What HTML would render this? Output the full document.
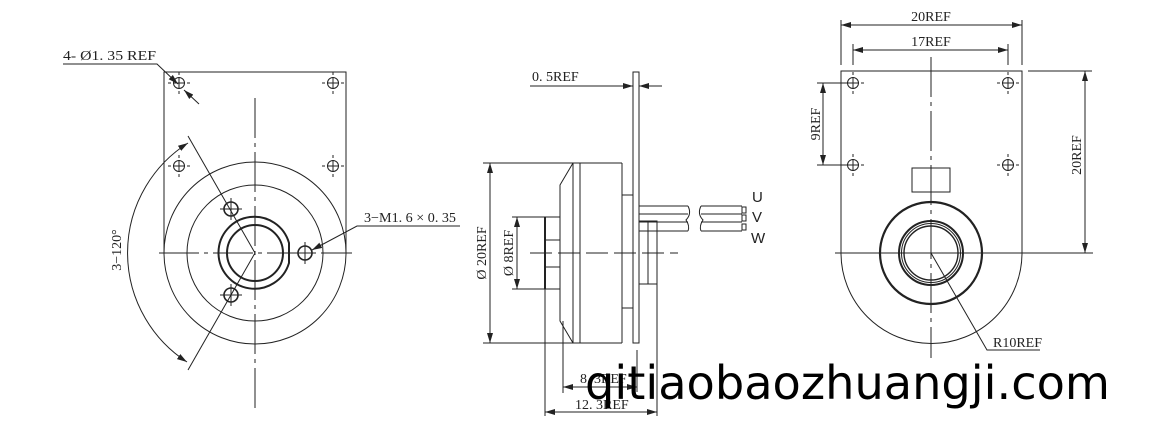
<!DOCTYPE html>
<html><head><meta charset="utf-8"><style>
html,body{margin:0;padding:0;background:#fff;}
svg{display:block;}
text{font-family:"Liberation Serif","DejaVu Serif",serif;fill:#222;}
</style></head><body>
<svg width="1168" height="430" viewBox="0 0 1168 430" xmlns="http://www.w3.org/2000/svg">
<defs>
<marker id="a" viewBox="0 0 10 6" refX="10" refY="3" markerWidth="10" markerHeight="6" orient="auto-start-reverse" markerUnits="userSpaceOnUse"><path d="M0,0 L10,3 L0,6 z" fill="#222"/></marker>
<g id="h"><circle r="5.5" fill="none" stroke="#222" stroke-width="1"/><line x1="-11" y1="0" x2="-8" y2="0"/><line x1="-6" y1="0" x2="6" y2="0"/><line x1="8" y1="0" x2="11" y2="0"/><line x1="0" y1="-11" x2="0" y2="-8"/><line x1="0" y1="-6" x2="0" y2="6"/><line x1="0" y1="8" x2="0" y2="11"/></g>
<g id="m"><circle r="7" fill="none" stroke-width="1.6"/><line x1="-11" y1="0" x2="11" y2="0"/><line x1="0" y1="-11" x2="0" y2="11"/></g>
</defs>
<g stroke="#222" stroke-width="1" fill="none">
<!-- LEFT VIEW -->
<polyline points="164,253 164,72 346,72 346,253"/>
<circle cx="255" cy="253" r="91"/>
<circle cx="255" cy="253" r="68"/>
<path d="M250,217 A36,36 0 1 0 289,263 L289,243 A36,36 0 0 0 250,217 Z" stroke-width="2"/>
<circle cx="255" cy="253" r="28" stroke-width="2"/>
<use href="#h" x="179" y="83"/><use href="#h" x="333" y="83"/><use href="#h" x="179" y="166"/><use href="#h" x="333" y="166"/>
<use href="#m" x="231" y="209"/><use href="#m" x="305" y="253"/><use href="#m" x="231" y="295"/>
<line x1="255" y1="98" x2="255" y2="408" stroke-dasharray="40,5,4,5"/>
<line x1="159" y1="253" x2="352" y2="253" stroke-dasharray="40,5,4,5"/>
<line x1="255" y1="253" x2="188" y2="136"/>
<line x1="255" y1="253" x2="188" y2="370"/>
<path d="M188,143 A130,130 0 0 0 187,362" marker-start="url(#a)" marker-end="url(#a)"/>
<polyline points="63,64 157,64 178,84" marker-end="url(#a)"/><line x1="199" y1="104" x2="184" y2="90" marker-end="url(#a)"/>
<polyline points="460,226 357,226 312,250" marker-end="url(#a)"/>
<!-- MIDDLE VIEW -->
<line x1="483" y1="163" x2="622" y2="163"/><line x1="483" y1="343" x2="622" y2="343"/>
<line x1="622" y1="163" x2="622" y2="343"/>
<polyline points="573,163 560,185 560,321 573,343"/>
<line x1="573" y1="163" x2="573" y2="343"/><line x1="580" y1="163" x2="580" y2="343"/>
<rect x="633" y="72" width="6" height="271"/>
<rect x="622" y="195" width="11" height="113"/>
<rect x="545" y="217" width="15" height="23"/><rect x="545" y="267" width="15" height="22"/>
<line x1="545" y1="217" x2="545" y2="289" stroke-width="2"/>
<line x1="530" y1="253" x2="678" y2="253" stroke-dasharray="22,6"/>
<path d="M639,206 L688,206 M639,214 L688,214 M639,222 L688,222 M639,231 L688,231 M688,206 Q692,214 686,220 Q690,226 688,231"/>
<path d="M701,206 L742,206 M701,214 L742,214 M701,222 L742,222 M701,231 L742,231 M701,206 Q697,214 703,220 Q699,226 701,231"/>
<rect x="742" y="207" width="4" height="6"/><rect x="742" y="215" width="4" height="6"/><rect x="742" y="224" width="4" height="6"/>
<rect x="648" y="221" width="9" height="63"/><rect x="639" y="221" width="9" height="63"/>
<line x1="490" y1="163" x2="490" y2="343" marker-start="url(#a)" marker-end="url(#a)"/>
<line x1="512" y1="217" x2="545" y2="217"/><line x1="512" y1="289" x2="545" y2="289"/>
<line x1="517" y1="217" x2="517" y2="289" marker-start="url(#a)" marker-end="url(#a)"/>
<line x1="530" y1="86" x2="633" y2="86" marker-end="url(#a)"/><line x1="662" y1="86" x2="639" y2="86" marker-end="url(#a)"/>
<line x1="545" y1="289" x2="545" y2="416"/><line x1="563" y1="321" x2="563" y2="393"/>
<line x1="637" y1="350" x2="637" y2="392"/><line x1="657" y1="284" x2="657" y2="416"/>
<line x1="563" y1="387" x2="637" y2="387" marker-start="url(#a)" marker-end="url(#a)"/>
<line x1="545" y1="412" x2="657" y2="412" marker-start="url(#a)" marker-end="url(#a)"/>
<!-- RIGHT VIEW -->
<path d="M841,253 L841,71 L1022,71 L1022,253 A90.5,90.5 0 0 1 841,253"/>
<use href="#h" x="853" y="83"/><use href="#h" x="1008" y="83"/><use href="#h" x="853" y="165"/><use href="#h" x="1008" y="165"/>
<rect x="912" y="168" width="38" height="24"/>
<circle cx="931" cy="253" r="51" stroke-width="2.2"/>
<circle cx="931" cy="253" r="32" stroke-width="2"/>
<circle cx="931" cy="253" r="29.5"/><circle cx="931" cy="253" r="27" stroke-width="1.4"/>
<line x1="931" y1="57" x2="931" y2="358" stroke-dasharray="40,5,4,5"/>
<line x1="835" y1="253" x2="1093" y2="253"/>
<line x1="841" y1="20" x2="841" y2="65"/><line x1="1022" y1="20" x2="1022" y2="65"/>
<line x1="853" y1="44" x2="853" y2="65"/><line x1="1008" y1="44" x2="1008" y2="65"/>
<line x1="841" y1="25" x2="1022" y2="25" marker-start="url(#a)" marker-end="url(#a)"/>
<line x1="853" y1="50" x2="1008" y2="50" marker-start="url(#a)" marker-end="url(#a)"/>
<line x1="1028" y1="71" x2="1092" y2="71"/>
<line x1="1085" y1="71" x2="1085" y2="253" marker-start="url(#a)" marker-end="url(#a)"/>
<line x1="817" y1="83" x2="853" y2="83"/><line x1="817" y1="165" x2="853" y2="165"/>
<line x1="823" y1="83" x2="823" y2="165" marker-start="url(#a)" marker-end="url(#a)"/>
<polyline points="931,253 987,350 1040,350"/>
</g>
<g font-size="14">
<text x="63" y="60" textLength="93" lengthAdjust="spacingAndGlyphs">4- Ø1. 35 REF</text>
<text x="364" y="222" textLength="92" lengthAdjust="spacingAndGlyphs">3−M1. 6 × 0. 35</text>
<text transform="translate(121,250) rotate(-90)" text-anchor="middle">3−120°</text>
<text x="532" y="81">0. 5REF</text>
<text transform="translate(486,253) rotate(-90)" text-anchor="middle">Ø 20REF</text>
<text transform="translate(513,253) rotate(-90)" text-anchor="middle">Ø 8REF</text>
<text x="580" y="383">8. 3REF</text>
<text x="575" y="409">12. 3REF</text>
<text x="931" y="21" text-anchor="middle">20REF</text>
<text x="931" y="46" text-anchor="middle">17REF</text>
<text transform="translate(820,124) rotate(-90)" text-anchor="middle">9REF</text>
<text transform="translate(1081,155) rotate(-90)" text-anchor="middle">20REF</text>
<text x="993" y="347">R10REF</text>
</g>
<g font-size="15" fill="#222">
<text x="752" y="202" style="font-family:'Liberation Sans',sans-serif">U</text>
<text x="752" y="222" style="font-family:'Liberation Sans',sans-serif">V</text>
<text x="751" y="243" style="font-family:'Liberation Sans',sans-serif">W</text>
</g>
<text x="585" y="399" font-size="46" style="font-family:'DejaVu Sans','Liberation Sans',sans-serif;fill:#000" textLength="525" lengthAdjust="spacingAndGlyphs">qitiaobaozhuangji.com</text>
</svg>
</body></html>
